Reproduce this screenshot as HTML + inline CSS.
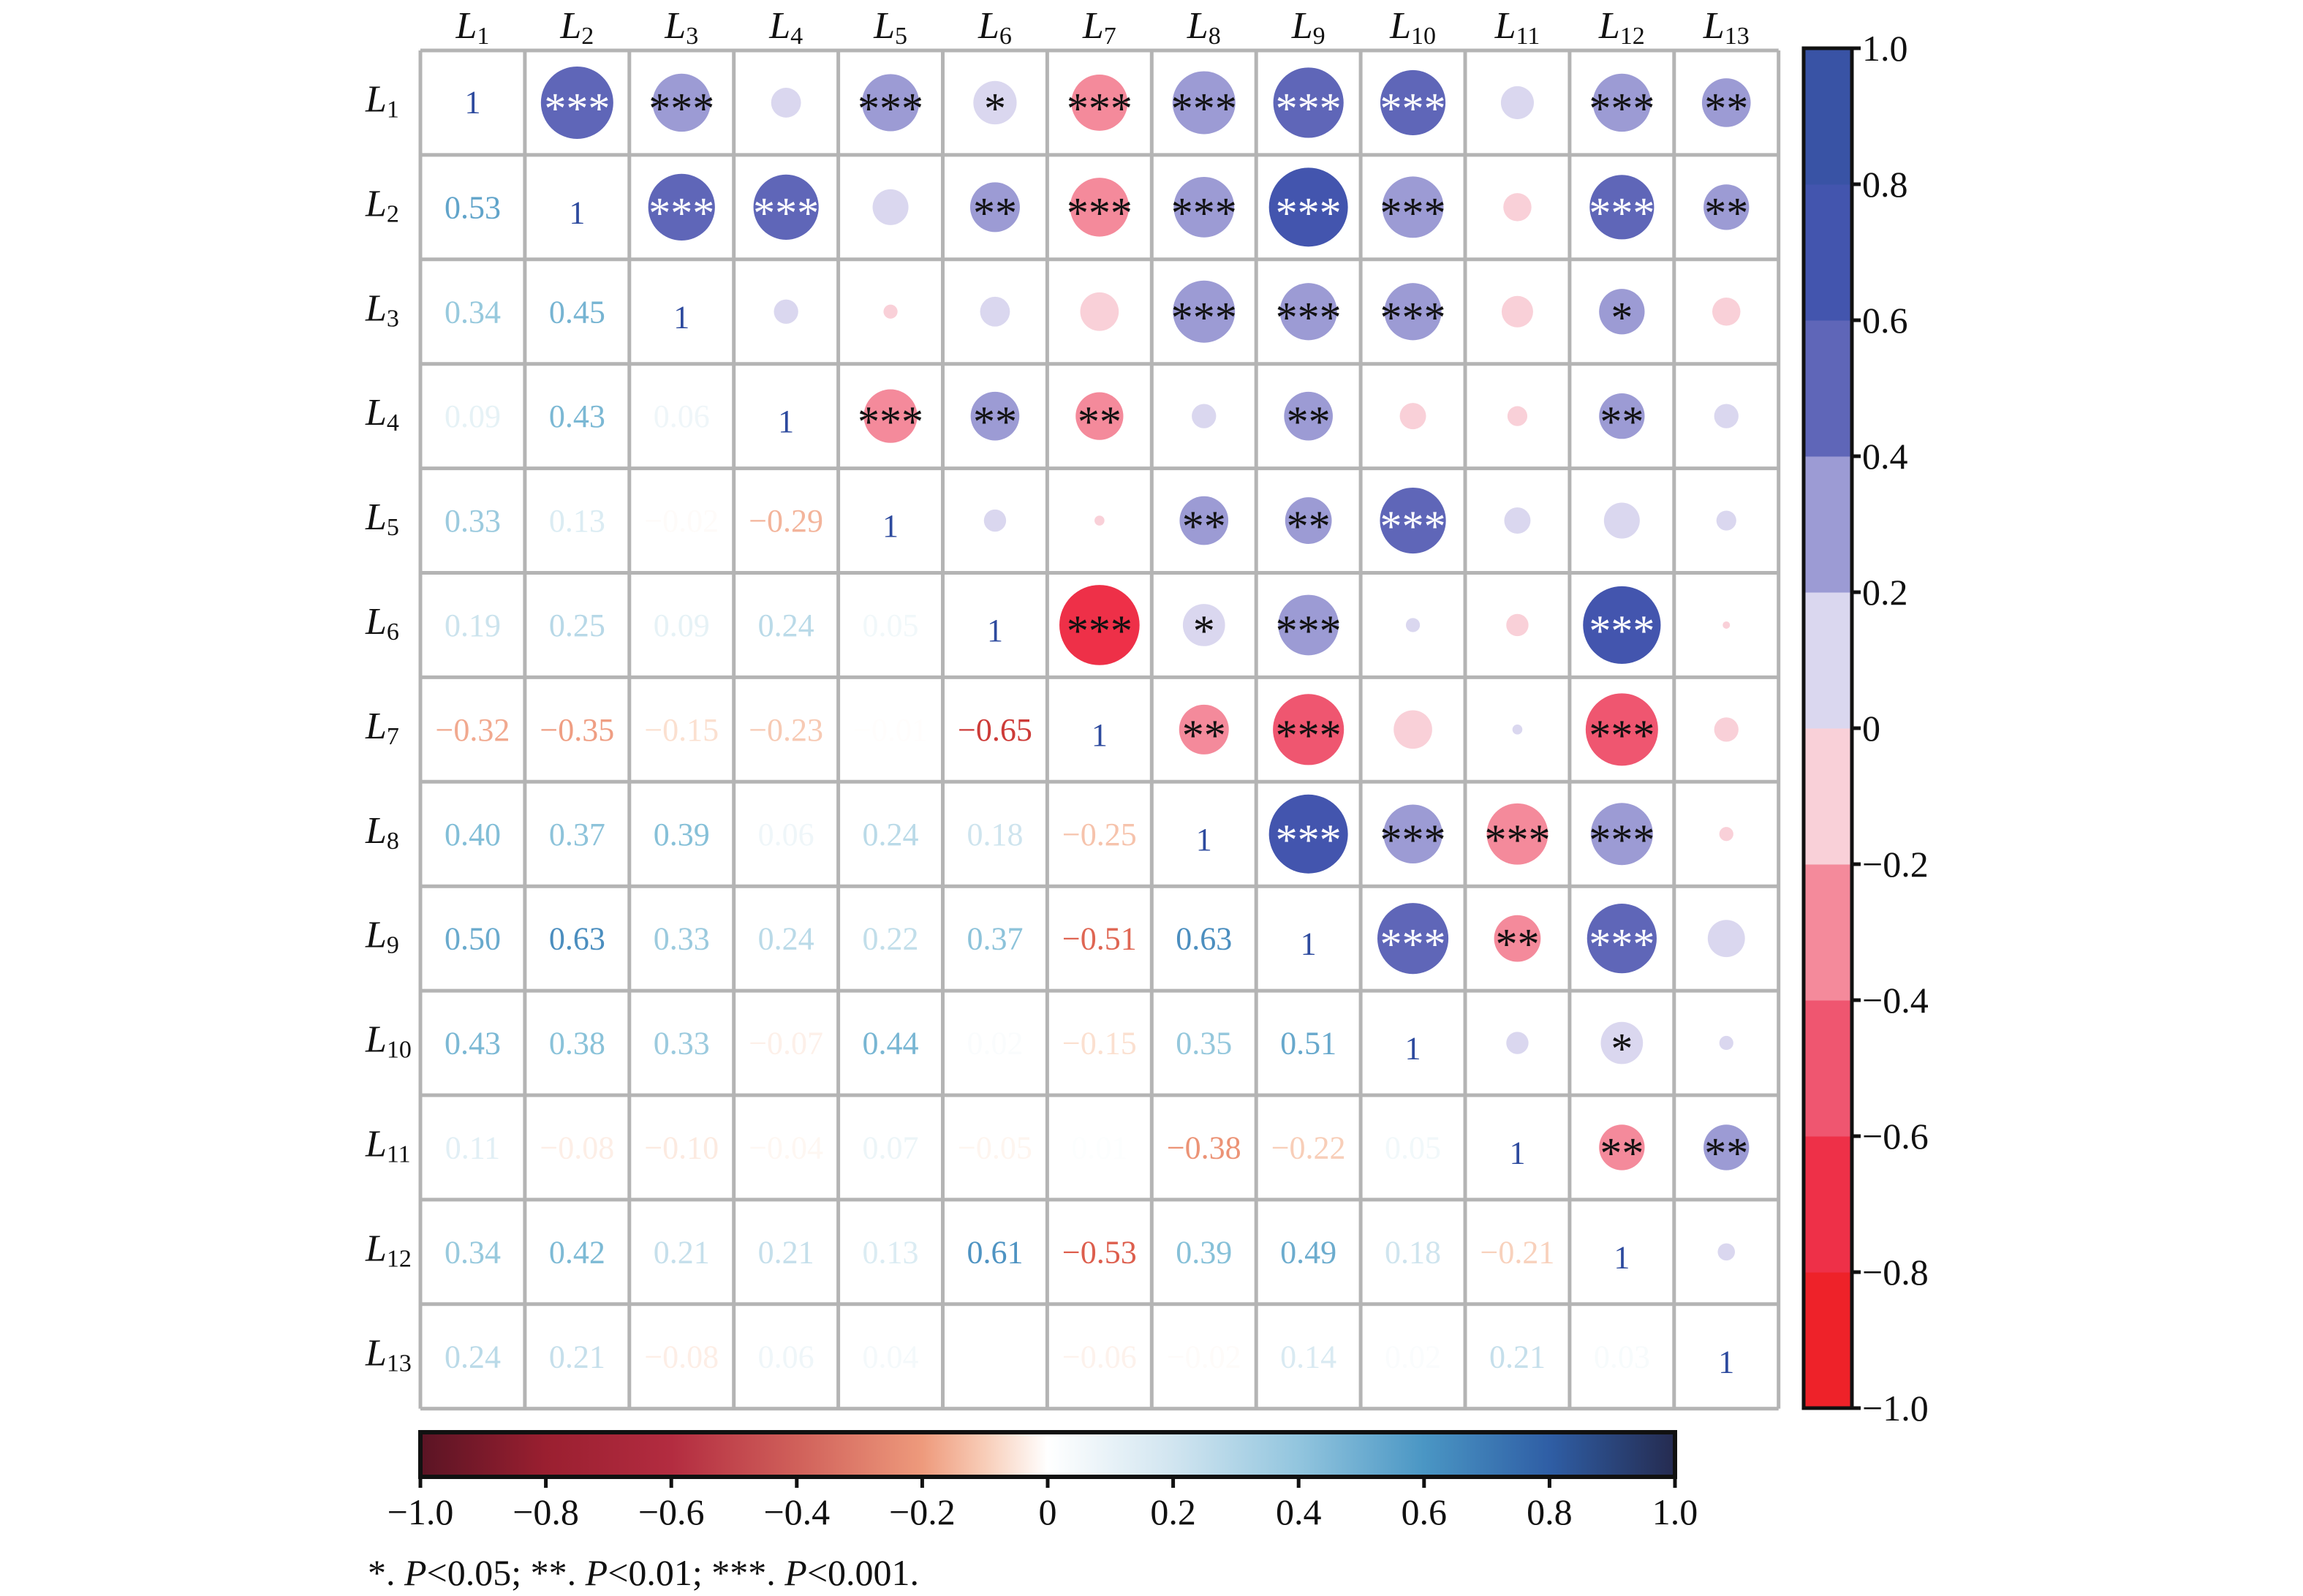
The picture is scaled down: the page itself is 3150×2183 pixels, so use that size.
<!DOCTYPE html>
<html><head><meta charset="utf-8">
<style>
html,body{margin:0;padding:0;background:#fff;}
svg{display:block;font-family:"Liberation Serif",serif;}
</style></head>
<body>
<svg id="chart" width="3150" height="2183" viewBox="0 0 3150 2183" xmlns="http://www.w3.org/2000/svg">
<defs>
<linearGradient id="rdbu" x1="0" x2="1" y1="0" y2="0">
<stop offset="0" stop-color="#5a1424"/>
<stop offset="0.1" stop-color="#9a1f30"/>
<stop offset="0.2" stop-color="#b32c40"/>
<stop offset="0.3" stop-color="#d0605a"/>
<stop offset="0.4" stop-color="#ee9a7c"/>
<stop offset="0.45" stop-color="#f8cdb8"/>
<stop offset="0.5" stop-color="#ffffff"/>
<stop offset="0.6" stop-color="#d1e5f0"/>
<stop offset="0.7" stop-color="#92c5de"/>
<stop offset="0.8" stop-color="#4a96c4"/>
<stop offset="0.9" stop-color="#2f5ea5"/>
<stop offset="1" stop-color="#252b50"/>
</linearGradient>
</defs>
<g id="plot"></g>
</svg>
<script>
const labels = ["1","2","3","4","5","6","7","8","9","10","11","12","13"];
const lowerValues = [
 [],
 [0.53],
 [0.34,0.45],
 [0.09,0.43,0.06],
 [0.33,0.13,-0.02,-0.29],
 [0.19,0.25,0.09,0.24,0.05],
 [-0.32,-0.35,-0.15,-0.23,-0.01,-0.65],
 [0.40,0.37,0.39,0.06,0.24,0.18,-0.25],
 [0.50,0.63,0.33,0.24,0.22,0.37,-0.51,0.63],
 [0.43,0.38,0.33,-0.07,0.44,0.02,-0.15,0.35,0.51],
 [0.11,-0.08,-0.10,-0.04,0.07,-0.05,0.01,-0.38,-0.22,0.05],
 [0.34,0.42,0.21,0.21,0.13,0.61,-0.53,0.39,0.49,0.18,-0.21],
 [0.24,0.21,-0.08,0.06,0.04,0.00,-0.06,-0.02,0.14,0.02,0.21,0.03]
];
const sigStars = [
 ["***","***","","***","*","***","***","***","***","","***","**"],
 ["***","***","","**","***","***","***","***","","***","**"],
 ["","","","","***","***","***","","*",""],
 ["***","**","**","","**","","","**",""],
 ["","","**","**","***","","",""],
 ["***","*","***","","","***",""],
 ["**","***","","","***",""],
 ["***","***","***","***",""],
 ["***","**","***",""],
 ["","*",""],
 ["**","**"],
 [""]
];
const colorbarTicks = [1.0,0.8,0.6,0.4,0.2,0,-0.2,-0.4,-0.6,-0.8,-1.0];
const gradientTicks = [-1.0,-0.8,-0.6,-0.4,-0.2,0,0.2,0.4,0.6,0.8,1.0];

const NS="http://www.w3.org/2000/svg";
const g=document.getElementById('plot');
function el(t,a,p){const e=document.createElementNS(NS,t);for(const k in a)e.setAttribute(k,a[k]);(p||g).appendChild(e);return e;}
const X0=575,Y0=69,CELL=142.9,N=13;
const cx=j=>X0+CELL*(j+0.5), cy=i=>Y0+CELL*(i+0.5);
function fmt(v){const s=Math.abs(v).toFixed(2);return (v<0?"\u2212":"")+s;}
const bucketCols=["#ee2229","#ee3048","#ef5670","#f48a9b","#f9d0d8","#dad7ef","#9c9bd4","#5f66b8","#4355ae","#3953a5"];
function bucketIndex(v){let k=Math.floor((v+1)/0.2-1e-6); if(v<0) k=Math.floor((v+1)/0.2+1e-6); if(k>9)k=9; if(k<0)k=0; return k;}
function bucketColor(v){return bucketCols[bucketIndex(v)];}
function lerp(a,b,t){return a.map((x,i)=>Math.round(x+(b[i]-x)*t));}
function textColor(v){
 const pos=[[255,255,255],[200,225,236],[130,190,215],[80,150,195],[45,94,165],[37,43,80]];
 const neg=[[255,255,255],[249,213,192],[235,140,110],[214,70,60],[178,24,43],[94,16,32]];
 const arr=v>=0?pos:neg; const a=Math.min(Math.abs(v),1)*5; const k=Math.min(Math.floor(a),4);
 const c=lerp(arr[k],arr[k+1],a-k); return `rgb(${c[0]},${c[1]},${c[2]})`;
}
function val(i,j){return i>j?lowerValues[i][j]:lowerValues[j][i];}

el('rect',{x:X0,y:Y0,width:CELL*N,height:CELL*N,fill:'#fff'});
for(let i=0;i<N;i++)for(let j=0;j<N;j++){
 if(i===j){
  const t=el('text',{x:cx(j),y:cy(i)+(i===0?14:22),'text-anchor':'middle','font-size':44,fill:'#2d4a9e'});
  t.textContent='1';
  
  
 } else if(i>j){
  const v=val(i,j);
  const t=el('text',{x:cx(j),y:cy(i)+15,'text-anchor':'middle','font-size':44,fill:textColor(v)});
  t.textContent=fmt(v);
  
  
 } else {
  const v=val(i,j);
  const r=Math.max(5,68*Math.sqrt(Math.abs(v)));
  const c=el('circle',{cx:cx(j),cy:cy(i),r:r,fill:bucketColor(v)});
  
  
  const s=sigStars[i][j-i-1];
  if(s){
   const t=el('text',{x:cx(j),y:cy(i)+28,'text-anchor':'middle','font-size':60,fill:(v>0.4+1e-6?'#fff':'#111')});
   t.textContent=s;
   
   
  }
 }
}
for(let k=0;k<=N;k++){
 el('line',{x1:X0+CELL*k,y1:Y0,x2:X0+CELL*k,y2:Y0+CELL*N,stroke:'#b4b4b4','stroke-width':5});
 el('line',{x1:X0,y1:Y0+CELL*k,x2:X0+CELL*N,y2:Y0+CELL*k,stroke:'#b4b4b4','stroke-width':5});
}
labels.forEach((l,k)=>{
 const t=el('text',{x:cx(k),y:52,'text-anchor':'middle','font-size':52,fill:'#111'});
 t.innerHTML='<tspan font-style="italic">L</tspan><tspan font-size="34" dy="8">'+l+'</tspan>';
 
 
 const r=el('text',{x:500,y:cy(k)+12,'text-anchor':'start','font-size':52,fill:'#111'});
 r.innerHTML='<tspan font-style="italic">L</tspan><tspan font-size="34" dy="8">'+l+'</tspan>';
 
 
});
const VB={x:2467,w:66,top:66,bot:1926};
const vy=v=>VB.bot-(v+1)/2*(VB.bot-VB.top);
for(let k=0;k<10;k++){
 const lo=-1+k*0.2, hi=lo+0.2;
 const r=el('rect',{x:VB.x,y:vy(hi),width:VB.w,height:vy(lo)-vy(hi)+0.5,fill:bucketCols[k]});
 
 
}
el('rect',{x:VB.x,y:VB.top,width:VB.w,height:VB.bot-VB.top,fill:'none',stroke:'#111','stroke-width':5});
colorbarTicks.forEach(v=>{
 el('line',{x1:VB.x+VB.w,y1:vy(v),x2:VB.x+VB.w+12,y2:vy(v),stroke:'#111','stroke-width':5});
 const t=el('text',{x:VB.x+VB.w+14,y:vy(v)+17,'font-size':50,fill:'#111'});
 t.textContent=(v<0?'\u2212':'')+(v===0?'0':Math.abs(v).toFixed(1));
 
 
});
const HB={x0:575,x1:2291,top:1959,bot:2020};
const hx=v=>HB.x0+(v+1)/2*(HB.x1-HB.x0);
const gb=el('rect',{x:HB.x0,y:HB.top,width:HB.x1-HB.x0,height:HB.bot-HB.top,fill:'url(#rdbu)',stroke:'#111','stroke-width':6});


gradientTicks.forEach(v=>{
 el('line',{x1:hx(v),y1:HB.bot,x2:hx(v),y2:HB.bot+15,stroke:'#111','stroke-width':5});
 const t=el('text',{x:hx(v),y:2085,'text-anchor':'middle','font-size':50,fill:'#111'});
 t.textContent=(v<0?'\u2212':'')+(v===0?'0':Math.abs(v).toFixed(1));
 
 
});
const fn=el('text',{x:503,y:2168,'font-size':50,fill:'#111'});
fn.innerHTML='*. <tspan font-style="italic">P</tspan>&lt;0.05; **. <tspan font-style="italic">P</tspan>&lt;0.01; ***. <tspan font-style="italic">P</tspan>&lt;0.001.';


</script>
</body></html>
